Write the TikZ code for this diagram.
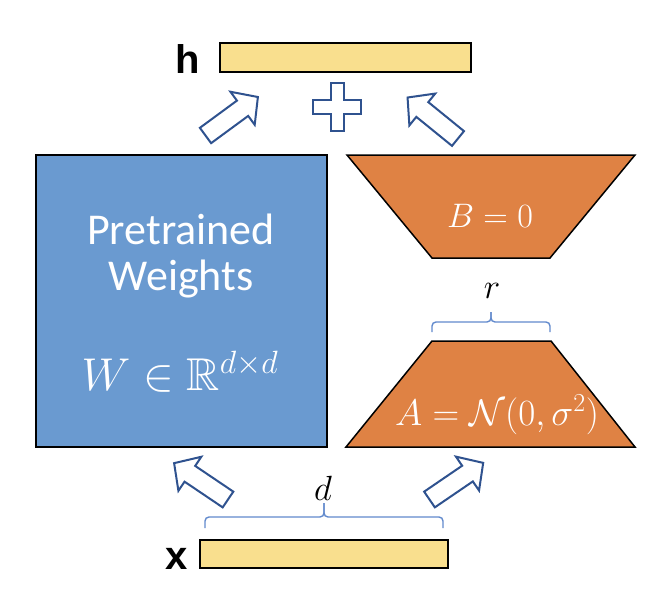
\RequirePackage{fix-cm}
\documentclass[tikz,border=0pt]{standalone}
\usepackage{amssymb}
\usepackage{fontspec}
\newfontfamily\calib{Carlito}
\newfontfamily\arialf{Liberation Sans}
\definecolor{wblue}{RGB}{106,154,208}
\definecolor{lorange}{RGB}{223,130,68}
\definecolor{vyellow}{RGB}{249,223,142}
\definecolor{arrblue}{RGB}{47,82,143}
\definecolor{brblue}{RGB}{98,138,205}
\tikzset{
  arrowline/.style={draw=arrblue, line width=2pt, fill=white, line join=miter},
  blockarrow/.pic={\draw[arrowline] (0,-9.5) -- (46,-9.5) -- (46,-20.5) -- (65,0) -- (46,20.5) -- (46,9.5) -- (0,9.5) -- cycle;},
  barstyle/.style={draw=black, line width=1.5pt, fill=vyellow},
  blockstyle/.style={draw=black, line width=1.5pt},
  labelb/.style={anchor=base, inner sep=0pt, font=\arialf\bfseries\fontsize{40}{44}\selectfont},
  wtext/.style={anchor=base, inner sep=0pt, text=white, font=\calib\fontsize{44}{46}\selectfont},
  wmath/.style={anchor=base, inner sep=0pt, text=white},
  dimlabel/.style={anchor=base, inner sep=0pt, font=\fontsize{35}{40}\selectfont},
  bracestyle/.style={draw=brblue, line width=1.4pt, rounded corners=4pt},
}
\begin{document}
\begin{tikzpicture}[x=1pt,y=-1pt]
\useasboundingbox[fill=white] (0,0) rectangle (670,616);
% output and input vectors
\draw[barstyle] (220,43) rectangle (471,72);
\draw[barstyle] (200,540) rectangle (448,568);
\node[labelb] (hl) at (188,73) {h};
\node[labelb] (xl) at (177,569) {x};
% pretrained weights
\draw[blockstyle, fill=wblue] (36,155) rectangle (327,447);
\node[wtext] (pre) at (181,244) {Pretrained};
\node[wtext] (wei) at (181,290) {Weights};
\node[wmath, font=\fontsize{46}{52}\selectfont] (wm) at (180,390) {$W\in\mathbb{R}^{d\times d}$};
% LoRA matrices
\draw[blockstyle, fill=lorange] (347,155) -- (635,155) -- (550,258) -- (432,258) -- cycle;
\draw[blockstyle, fill=lorange] (432,341) -- (551,341) -- (635,447) -- (346,447) -- cycle;
\node[wmath, font=\fontsize{34}{40}\selectfont] (bm) at (490,227) {$B=0$};
\node[wmath, font=\fontsize{37}{44}\selectfont] (am) at (497,425) {$A=\mathcal{N}(0,\sigma^2)$};
% braces
\draw[bracestyle] (432,332) -- (432,322) -- (491,322) -- (491,312);
\draw[bracestyle] (550,332) -- (550,322) -- (491,322) -- (491,312);
\node[dimlabel] (rl) at (492,298) {$r$};
\draw[bracestyle] (205,528) -- (205,517) -- (324,517) -- (324,503);
\draw[bracestyle] (443,528) -- (443,517) -- (324,517) -- (324,503);
\node[dimlabel] (dl) at (323,500) {$d$};
% block arrows
\pic[rotate=36.3] at (205.5,135.5) {blockarrow};
\pic[rotate=140.9] at (458,138.5) {blockarrow};
\pic[rotate=146] at (228,499.5) {blockarrow};
\pic[rotate=34.3] at (429.5,499.5) {blockarrow};
% plus sign
\draw[arrowline] (330.5,83) -- (343.5,83) -- (343.5,100) -- (361,100) -- (361,114) -- (343.5,114) -- (343.5,131) -- (330.5,131) -- (330.5,114) -- (313,114) -- (313,100) -- (330.5,100) -- cycle;
\end{tikzpicture}
\end{document}
